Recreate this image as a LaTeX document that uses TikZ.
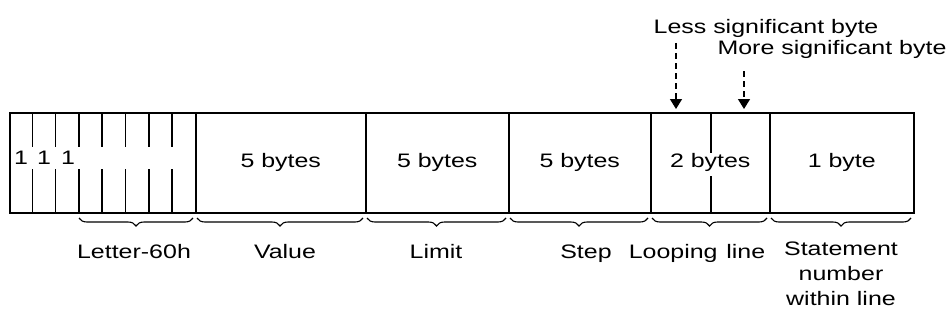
\documentclass[tikz,border=0pt]{standalone}
\usepackage{fontspec}
\setmainfont{Liberation Sans}[FakeStretch=1.28]
\usetikzlibrary{decorations.pathreplacing,arrows.meta,calc}
\begin{document}
\begin{tikzpicture}[x=1pt,y=-1pt,
  field/.style={draw,line width=1.5pt,minimum height=100pt,inner sep=0pt,anchor=north west,
    font=\fontsize{19.5}{22}\selectfont},
  lbl/.style={font=\fontsize{19.5}{25}\selectfont,inner sep=0pt,anchor=base},
  bitline/.style={line width=1.6pt},
  fieldbrace/.style={decorate,decoration={brace,mirror,amplitude=8pt},line width=1.1pt},
  dasharrow/.style={line width=1.3pt,dash pattern=on 6pt off 4pt,-{Triangle[width=12pt,length=10pt]}}]
\useasboundingbox (0,0) rectangle (949,329);
% fields
\node[field,minimum width=186pt] (bits) at (9,112) {};
\node[field,minimum width=170pt] (value) at (195,112) {5 bytes};
\node[field,minimum width=143pt] (limit) at (365,112) {5 bytes};
\node[field,minimum width=142pt] (step) at (508,112) {5 bytes};
\node[field,minimum width=119pt] (loop) at (650,112) {2 bytes};
\node[field,minimum width=144pt] (stmt) at (769,112) {1 byte};
% bit separators with gaps
\foreach \x in {32.5,55.5,79,102,125.5,149,172}{
  \draw[bitline] (\x,112) -- (\x,147);
  \draw[bitline] (\x,169) -- (\x,212);
}
% byte separator in looping line
\draw[bitline] (711,112) -- (711,153);
\draw[bitline] (711,176) -- (711,212);
% the three 1 bits
\node[lbl,anchor=center] (b1) at (21,158) {1};
\node[lbl,anchor=center] (b2) at (44,158) {1};
\node[lbl,anchor=center] (b3) at (68,158) {1};
% braces
\coordinate (lbA) at (79,218);
\coordinate (lbB) at (193,218);
\draw[fieldbrace] (lbA) -- (lbB);
\draw[fieldbrace] (197,218) -- (363,218);
\draw[fieldbrace] (367,218) -- (506,218);
\draw[fieldbrace] (510,218) -- (648,218);
\draw[fieldbrace] (652,218) -- (767,218);
\draw[fieldbrace] (771,218) -- (911,218);
% labels below
\node[lbl] (lLetter) at (134,258) {Letter-60h};
\node[lbl] (lValue) at (285,258) {Value};
\node[lbl] (lLimit) at (436,258) {Limit};
\node[lbl] (lStep) at (586,258) {Step};
\node[lbl] (lLoop) at (697,258) {Looping\hspace{0.45em}line};
\node[lbl,align=center,anchor=north] (lStmt) at (841,242) {Statement\\number\\within line};
% labels above
\node[lbl] (lsb) at (766,34) {Less significant byte};
\node[lbl] (msb) at (832,55) {More significant byte};
\coordinate (lsbtail) at (676,43);
\coordinate (lsbtip) at (676,109);
\coordinate (msbtail) at (744,71);
\coordinate (msbtip) at (744,109);
\draw[dasharrow] (lsbtail) -- (lsbtip);
\draw[dasharrow] (msbtail) -- (msbtip);
\end{tikzpicture}
\end{document}
